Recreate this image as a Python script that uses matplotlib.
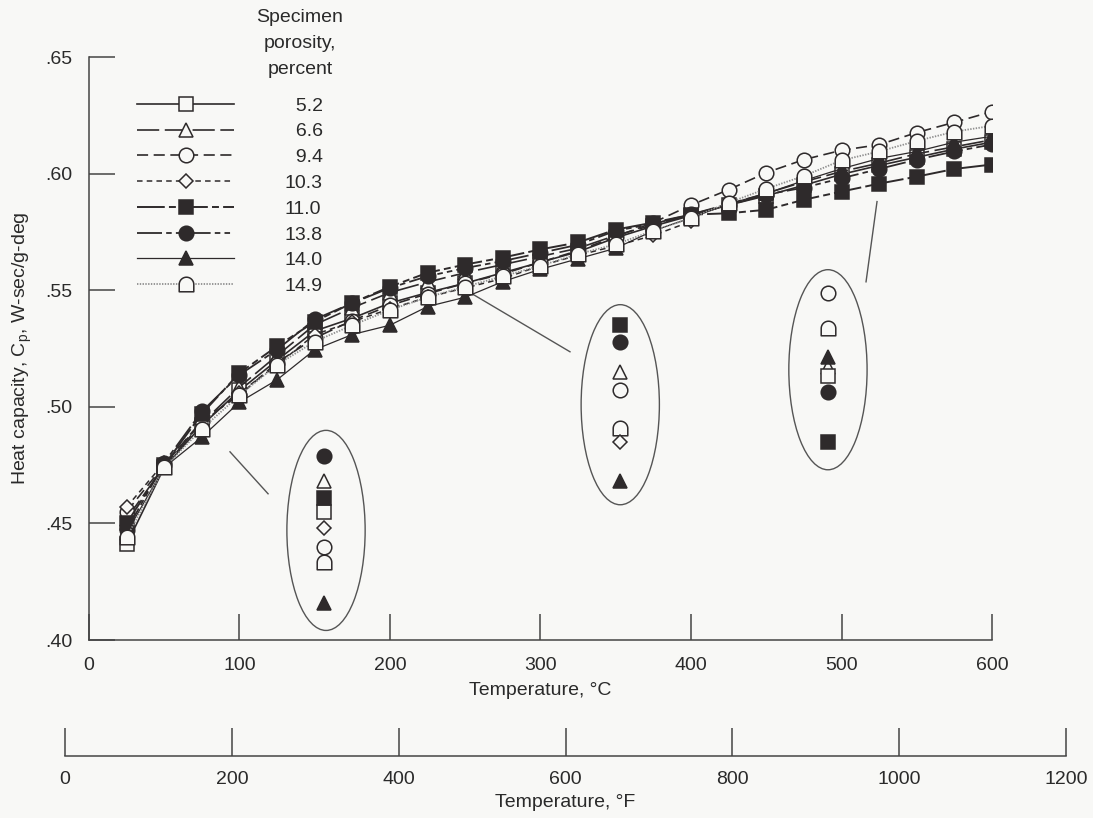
import numpy as np
import matplotlib.pyplot as plt
from matplotlib.patches import Ellipse
from matplotlib.path import Path

plt.rcParams['font.family'] = ['Liberation Sans', 'DejaVu Sans']
plt.rcParams['mathtext.fontset'] = 'custom'
plt.rcParams['mathtext.rm'] = 'Liberation Sans'
plt.rcParams['lines.scale_dashes'] = False

nan = np.nan

# temperatures, deg C
temps_c = [25, 50, 75, 100, 125, 150, 175, 200, 225, 250, 275, 300,
           325, 350, 375, 400, 425, 450, 475, 500, 525, 550, 575, 600]

# heat capacity per specimen porosity
cp_52 = [0.441, 0.474, 0.492, 0.507, 0.520, 0.5325, 0.538, 0.5445, 0.549, 0.553, 0.5575, 0.562,
         0.5665, 0.5725, 0.5775, 0.582, 0.5865, 0.5905, 0.595, 0.5997, 0.6035, 0.607, 0.6105, 0.6135]
cp_66 = [0.452, 0.4745, 0.493, 0.5085, 0.522, 0.5352, 0.5425, 0.549, 0.5535, 0.5575, 0.561, 0.5645,
         0.568, 0.5735, 0.578, 0.5825, 0.587, 0.5915, 0.5965, 0.6009, 0.6045, 0.6085, 0.6115, 0.6145]
cp_94 = [0.455, 0.475, 0.494, 0.505, 0.519, 0.5295, 0.537, 0.5435, 0.5485, 0.553, 0.557, 0.562,
         0.567, 0.573, 0.579, 0.5865, 0.5931, 0.6004, 0.606, 0.610, 0.6124, 0.6176, 0.622, 0.6266]
cp_103 = [0.457, 0.476, 0.493, 0.506, 0.518, 0.531, 0.5365, 0.542, 0.547, 0.551, 0.555, 0.5605,
          0.565, 0.569, 0.5735, 0.5795, nan, nan, nan, nan, nan, nan, nan, nan]
cp_110 = [0.450, 0.475, 0.497, 0.5145, 0.526, 0.5365, 0.5446, 0.5515, 0.5575, 0.561, 0.564, 0.5675,
          0.5705, 0.576, 0.579, 0.5824, 0.583, 0.5845, 0.5888, 0.5923, 0.5957, 0.5987, 0.602, 0.6039]
cp_138 = [0.447, 0.476, 0.498, 0.5137, 0.5245, 0.5375, 0.5445, 0.551, 0.556, 0.5595, 0.5625, 0.566,
          0.5695, 0.5755, 0.5785, 0.5825, 0.5865, 0.591, 0.594, 0.598, 0.602, 0.606, 0.6095, 0.6125]
cp_140 = [0.446, 0.474, 0.487, 0.502, 0.5116, 0.5245, 0.531, 0.535, 0.543, 0.547, 0.5537, 0.559,
          0.5635, 0.568, 0.5755, 0.581, 0.587, 0.5915, 0.597, 0.6021, 0.6065, 0.6095, 0.6135, 0.616]
cp_149 = [0.444, 0.474, 0.4905, 0.505, 0.518, 0.528, 0.535, 0.5415, 0.547, 0.5515, 0.556, 0.5605,
          0.5655, 0.5697, 0.5755, 0.581, 0.5875, 0.5935, 0.599, 0.6057, 0.6095, 0.614, 0.618, 0.6205]

# magnified call-outs (ellipses): marker order at three temperatures
callout_t = [156, 353, 491]
callout_52 = [0.455, nan, 0.513]
callout_66 = [0.468, 0.515, 0.517]
callout_94 = [0.440, 0.507, 0.549]
callout_103 = [0.448, 0.485, nan]
callout_110 = [0.461, 0.535, 0.485]
callout_138 = [0.479, 0.528, 0.5065]
callout_140 = [0.416, 0.468, 0.5215]
callout_149 = [0.4335, 0.491, 0.534]

porosity = ['5.2', '6.6', '9.4', '10.3', '11.0', '13.8', '14.0', '14.9']

bg = '#f8f8f6'
ink = '#2e2a2b'
txt = '#2a2a2a'

# half-round "tombstone" marker for 14.9
ang = np.linspace(0, np.pi, 25)
dome = [(-1, -1), (1, -1)] + list(zip(np.cos(ang), np.sin(ang))) + [(-1, -1)]
dome_marker = Path(dome, closed=True)

series = [
    # label, values, callout, marker, filled, linestyle, color, lw, ms
    ('5.2', cp_52, callout_52, 's', False, '-', ink, 1.2, 10.5),
    ('6.6', cp_66, callout_66, '^', False, (0, (16, 4)), ink, 1.2, 10.5),
    ('9.4', cp_94, callout_94, 'o', False, (0, (8, 4)), ink, 1.2, 10.5),
    ('10.3', cp_103, callout_103, 'D', False, (0, (4, 3)), ink, 1.1, 7.5),
    ('11.0', cp_110, callout_110, 's', True, (0, (20, 3, 5, 3)), ink, 1.4, 10.5),
    ('13.8', cp_138, callout_138, 'o', True, (0, (18, 3, 4, 3, 4, 3)), ink, 1.3, 10.5),
    ('14.0', cp_140, callout_140, '^', True, '-', ink, 0.9, 10.5),
    ('14.9', cp_149, callout_149, dome_marker, False, (0, (1, 1)), '#8e8e8e', 1.3, 10.5),
]
draw_order = [2, 7, 1, 0, 3, 6, 5, 4]

fig = plt.figure(figsize=(10.93, 8.18), dpi=100, facecolor=bg)
ax = fig.add_axes([0.0814, 0.2176, 0.8262, 0.7127])
ax.set_facecolor(bg)

handles = {}
for i in draw_order:
    lab, vals, call, mk, filled, ls, col, lw, ms = series[i]
    fc = ink if filled else bg
    h, = ax.plot(temps_c, vals, color=col, ls=ls, lw=lw, marker=mk, ms=ms,
                 mfc=fc, mec=ink, mew=1.1, zorder=3 + i * 0.1)
    ax.plot(callout_t, call, ls='none', marker=mk, ms=ms, mfc=fc, mec=ink,
            mew=1.1, zorder=3)
    handles[i] = h

# ellipses and leader lines
for cx, cy in [(157.5, 0.447), (353, 0.5009), (491, 0.5159)]:
    ax.add_patch(Ellipse((cx, cy), 52, 0.0858, fill=False, ec='#555555', lw=1.0, zorder=2))
ax.plot([93.7, 119], [0.4807, 0.4627], color='#555555', lw=1.0)
ax.plot([250.5, 319.6], [0.550, 0.5236], color='#555555', lw=1.0)
ax.plot([523.6, 516.3], [0.588, 0.5536], color='#555555', lw=1.0)

ax.set_xlim(0, 600)
ax.set_ylim(0.40, 0.65)
ax.set_xticks(range(0, 601, 100))
ax.set_yticks([0.40, 0.45, 0.50, 0.55, 0.60, 0.65])
ax.set_yticklabels(['.40', '.45', '.50', '.55', '.60', '.65'])
for s in ['top', 'right']:
    ax.spines[s].set_visible(False)
for s in ['left', 'bottom']:
    ax.spines[s].set_linewidth(1.1)
    ax.spines[s].set_color('#444444')
ax.tick_params(direction='in', length=19, width=1.1, color='#444444',
               labelsize=14, labelcolor=txt)
ax.tick_params(axis='x', pad=12)
ax.tick_params(axis='y', pad=12)
ax.set_xlabel('Temperature, \u00b0C', fontsize=14, color=txt, labelpad=6)
ax.set_ylabel(r'Heat capacity, C$_\mathregular{p}$, W-sec/g-deg', fontsize=14,
              color=txt, labelpad=8)

# legend
labels = [('\u2007' + p if len(p) == 3 else p) for p in porosity]
leg = ax.legend([handles[i] for i in range(8)], labels, loc='upper left',
                bbox_to_anchor=(137 / 1093, 1 - 97 / 818), bbox_transform=fig.transFigure,
                frameon=False, handlelength=5.0, handletextpad=2.6, labelspacing=0.42,
                borderpad=0, borderaxespad=0, numpoints=1, fontsize=14)
for t in leg.get_texts():
    t.set_color(txt)
fig.text(300 / 1093, 1 - 9 / 818, 'Specimen\nporosity,\npercent', ha='center', va='top',
         fontsize=14, color=txt, linespacing=1.68)

# Fahrenheit scale
axf = fig.add_axes([65 / 1093, 1 - 756 / 818, 1001 / 1093, 0.0001])
axf.set_facecolor('none')
axf.set_xlim(0, 1200)
axf.set_xticks(range(0, 1201, 200))
axf.set_yticks([])
for s in ['top', 'right', 'left']:
    axf.spines[s].set_visible(False)
axf.spines['bottom'].set_linewidth(1.1)
axf.spines['bottom'].set_color('#444444')
axf.tick_params(axis='x', direction='in', length=20, width=1.1, color='#444444',
                labelsize=14, labelcolor=txt, pad=11)
axf.set_xlabel('Temperature, \u00b0F', fontsize=14, color=txt, labelpad=4)

fig.savefig('out.png', dpi=100, facecolor=bg)
